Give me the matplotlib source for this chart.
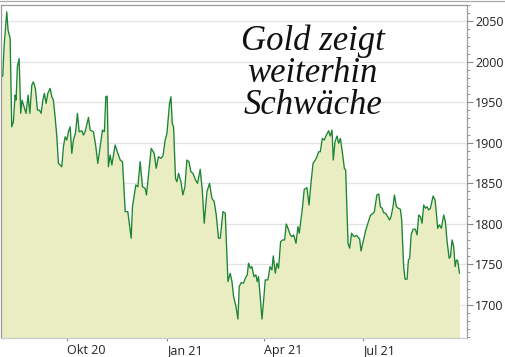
import matplotlib
matplotlib.use("Agg")
import matplotlib.pyplot as plt
from matplotlib.lines import Line2D
from matplotlib.ticker import MultipleLocator
import pandas as pd

# gold price, days counted from 2020-08-01
start = "2020-08-01"
days = [0.4, 1.6, 2.8, 5.3, 6.5, 8.4, 9.9, 11.4, 13.0, 13.9, 15.1, 16.7, 18.2, 19.4,
        21.3, 23.1, 25.0, 26.6, 28.4, 29.9, 31.7, 33.6, 35.4, 37.0, 38.6, 40.0, 41.6,
        43.2, 45.3, 46.9, 48.3, 49.9, 51.5, 53.0, 54.5, 56.1, 57.6, 59.2, 60.7, 62.2,
        63.8, 65.3, 66.8, 68.7, 70.5, 72.1, 74.6, 76.1, 77.6, 80.7, 82.2, 85.3, 87.5,
        89.3, 91.5, 93.6, 95.4, 96.7, 98.0, 99.1, 100.7, 102.3, 105.3, 107.8, 110.0,
        112.1, 114.6, 117.0, 120.1, 121.3, 124.4, 126.3, 128.4, 130.5, 133.0, 134.2,
        136.1, 138.6, 141.3, 143.2, 145.3, 147.5, 149.4, 151.5, 153.1, 155.5, 156.8,
        158.0, 159.2, 161.0, 162.3, 163.8, 166.0, 167.8, 169.7, 171.5, 173.4, 175.2,
        177.1, 179.5, 181.3, 183.8, 185.7, 187.5, 190.0, 192.4, 194.6, 196.7, 198.6,
        200.7, 202.3, 204.8, 206.9, 209.4, 211.5, 213.1, 214.6, 216.8, 218.6, 219.8,
        221.7, 223.8, 225.4, 227.2, 228.4, 230.0, 231.5, 233.4, 235.2, 236.4, 237.6,
        238.9, 240.8, 242.6, 243.8, 246.3, 248.2, 250.0, 251.2, 253.1, 254.6, 256.1,
        258.0, 259.8, 261.7, 263.2, 264.8, 266.9, 268.5, 270.0, 272.2, 274.0, 275.2,
        277.1, 278.3, 279.8, 282.3, 284.2, 286.0, 287.9, 290.0, 291.5, 293.1, 294.6,
        296.5, 298.3, 300.2, 302.3, 303.8, 305.4, 306.6, 308.2, 310.0, 311.5, 313.1,
        314.9, 316.8, 318.0, 320.2, 321.7, 323.5, 325.7, 328.1, 330.9, 332.2, 334.3,
        336.6, 338.9, 340.8, 343.1, 344.5, 346.8, 348.6, 350.0, 351.6, 353.1, 354.9,
        356.8, 358.6, 359.9, 361.7, 363.0, 364.8, 366.6, 368.5, 369.7, 371.5, 372.8,
        374.7, 375.9, 377.1, 378.4, 380.2, 382.3, 383.9, 385.4, 387.0, 388.5, 390.0,
        391.6, 393.1, 394.6, 396.2, 398.7, 400.5, 401.7, 402.9, 404.5, 406.3, 408.5,
        410.0, 411.6, 413.5, 414.7, 416.2, 417.7, 419.0, 420.2, 421.4, 423.0]
price = [1981.4, 1982.2, 2018.3, 2061.5, 2038.9, 2029.1, 1919.7, 1925.9, 1958.8, 1952.7,
         1993.7, 2004.0, 1936.3, 1952.7, 1944.4, 1936.3, 1958.8, 1936.3, 1971.1, 1975.2,
         1967.1, 1940.3, 1940.3, 1936.3, 1952.7, 1960.9, 1948.6, 1960.9, 1967.1, 1956.7,
         1952.7, 1932.1, 1907.4, 1874.6, 1872.5, 1870.4, 1895.1, 1907.4, 1903.4, 1913.6,
         1919.7, 1886.9, 1903.4, 1911.6, 1936.3, 1913.6, 1914.8, 1909.5, 1913.6, 1931.3,
         1915.7, 1913.6, 1895.1, 1874.6, 1895.1, 1915.7, 1913.6, 1956.7, 1957.6, 1870.4,
         1884.9, 1872.5, 1897.2, 1886.9, 1878.7, 1876.6, 1815.0, 1815.0, 1782.2, 1821.1,
         1847.9, 1845.8, 1876.6, 1845.8, 1843.8, 1835.6, 1860.2, 1893.1, 1886.9, 1868.5,
         1882.8, 1880.8, 1883.6, 1903.4, 1911.6, 1948.6, 1956.7, 1923.9, 1919.7, 1856.1,
         1851.9, 1862.3, 1851.9, 1835.6, 1845.8, 1878.7, 1876.6, 1864.3, 1862.3, 1854.0,
         1850.0, 1867.2, 1841.7, 1800.7, 1839.6, 1850.0, 1831.5, 1827.3, 1810.9, 1782.2,
         1782.2, 1815.0, 1813.0, 1728.7, 1739.0, 1728.7, 1710.2, 1697.9, 1682.4, 1722.5,
         1727.5, 1726.7, 1732.9, 1737.0, 1751.4, 1745.2, 1747.2, 1734.9, 1737.0, 1728.7,
         1734.9, 1714.4, 1682.4, 1710.2, 1730.8, 1730.8, 1747.2, 1743.1, 1760.4, 1739.1,
         1751.4, 1745.2, 1778.0, 1780.1, 1780.1, 1799.8, 1794.5, 1786.3, 1784.2, 1786.3,
         1776.0, 1796.5, 1788.4, 1808.8, 1822.0, 1842.6, 1844.6, 1823.2, 1850.0, 1874.6,
         1878.7, 1882.8, 1888.9, 1888.9, 1905.4, 1903.4, 1909.5, 1914.8, 1908.3, 1915.7,
         1878.7, 1901.3, 1908.3, 1899.3, 1905.4, 1888.9, 1868.5, 1866.4, 1776.0, 1769.9,
         1788.4, 1784.2, 1785.7, 1781.3, 1766.5, 1778.9, 1792.4, 1802.3, 1810.3, 1812.8,
         1815.0, 1835.6, 1836.8, 1821.1, 1819.2, 1813.7, 1813.0, 1808.8, 1804.7, 1808.8,
         1821.1, 1835.6, 1821.1, 1819.2, 1817.9, 1804.7, 1747.2, 1731.7, 1731.7, 1755.4,
         1757.5, 1786.3, 1793.3, 1793.3, 1786.3, 1810.9, 1808.8, 1800.7, 1823.2, 1819.2,
         1821.1, 1817.1, 1819.2, 1834.3, 1829.4, 1813.0, 1794.5, 1798.6, 1794.5, 1810.9,
         1802.7, 1778.0, 1757.5, 1759.5, 1780.1, 1771.8, 1747.2, 1755.4, 1754.6, 1739.1]

tick_dates = ["2020-10-01", "2021-01-01", "2021-04-01", "2021-07-01"]
tick_labels = ["Okt 20", "Jan 21", "Apr 21", "Jul 21"]
title_lines = ["Gold zeigt", "weiterhin", "Schwäche"]

dates = pd.Timestamp(start) + pd.to_timedelta(days, unit="D")
ymin, ymax = 1659, 2070

fig = plt.figure(figsize=(5.06, 3.57), dpi=100)
ax = fig.add_axes([0.002, 0.053, 0.921, 0.933])

ax.fill_between(dates, price, ymin, color="#e9edc1", lw=0, zorder=1)
ax.plot(dates, price, color="#1b8435", lw=0.95, zorder=2)

ax.set_ylim(ymin, ymax)
ax.set_xlim(pd.Timestamp(start), pd.Timestamp("2021-10-05"))

ax.yaxis.tick_right()
ax.yaxis.set_major_locator(MultipleLocator(50))
ax.yaxis.set_minor_locator(MultipleLocator(10))
ax.set_xticks(pd.to_datetime(tick_dates))
ax.set_xticklabels(tick_labels, ha="left")
ax.tick_params(axis="both", labelsize=9, colors="#222222", pad=2)
ax.tick_params(axis="y", which="major", length=4, color="#888888")
ax.tick_params(axis="y", which="minor", length=2, color="#888888")
ax.tick_params(axis="x", length=2, color="#888888")
for lab in ax.get_xticklabels() + ax.get_yticklabels():
    lab.set_family("Open Sans")

ax.grid(axis="y", color="#e2e2e2", lw=0.9)
ax.set_axisbelow(True)
for s in ax.spines.values():
    s.set_color("#9a9a9a")
    s.set_linewidth(0.9)
ax.spines["bottom"].set_color("#cccccc")

# thin frame line along the very top of the picture
fig.add_artist(Line2D([0, 1], [0.997, 0.997], color="#aaaaaa", lw=0.9))

for i, line in enumerate(title_lines):
    fig.text(0.618, 0.885 - i * 0.09, line, ha="center", va="center",
             fontsize=25, family="Liberation Serif", style="italic", color="#111111")

fig.savefig("out.png", dpi=100)
